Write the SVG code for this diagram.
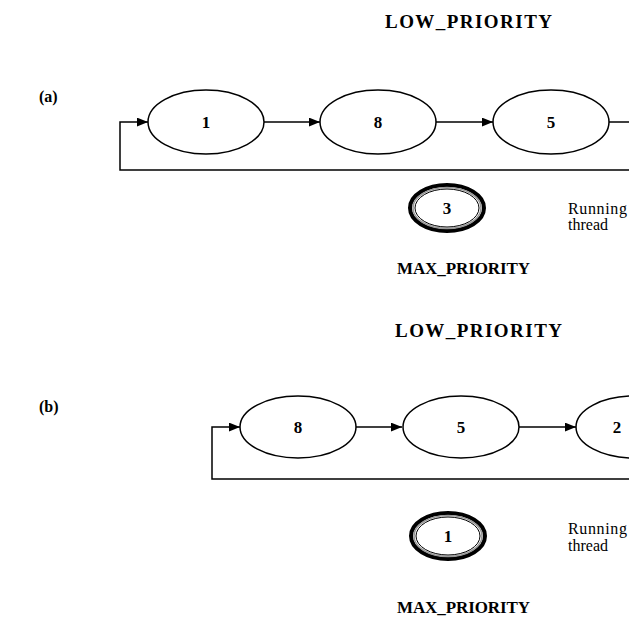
<svg xmlns="http://www.w3.org/2000/svg" width="629" height="622" viewBox="0 0 629 622">
<style>
.bg{fill:#fff}
.node{fill:#fff;stroke:#000;stroke-width:1.5}
.run-outer{fill:none;stroke:#000;stroke-width:4}
.run-mid{fill:none;stroke:#999;stroke-width:1.5}
.run-inner{fill:#fff;stroke:#000;stroke-width:1}
.edge{fill:none;stroke:#000;stroke-width:1.5}
.num{font-family:"Liberation Serif",serif;font-weight:bold;font-size:17px;text-anchor:middle}
.head{font-family:"Liberation Serif",serif;font-weight:bold;font-size:19px}
.lbl{font-family:"Liberation Serif",serif;font-weight:bold;font-size:16px}
.max{font-family:"Liberation Serif",serif;font-weight:bold;font-size:17px}
.note{font-family:"Liberation Serif",serif;font-size:16px}
</style>
<defs>
<marker id="arr" viewBox="0 0 10 8" refX="10" refY="4" markerWidth="11" markerHeight="9" markerUnits="userSpaceOnUse" orient="auto">
<path d="M0,0 L10,4 L0,8 Z" fill="#000"/>
</marker>
</defs>
<rect class="bg" x="0" y="0" width="629" height="622"/>

<text class="head" x="385" y="28" textLength="167" lengthAdjust="spacing">LOW_PRIORITY</text>
<text class="lbl" x="39" y="102">(a)</text>

<g id="connectors-a">
<line class="edge" x1="264" y1="122" x2="320" y2="122" marker-end="url(#arr)"/>
<line class="edge" x1="436" y1="122" x2="493" y2="122" marker-end="url(#arr)"/>
<line class="edge" x1="609" y1="122" x2="629" y2="122"/>
<path class="edge" d="M629,170 H120 V122 H148" marker-end="url(#arr)"/>
</g>

<g id="a-node-1"><ellipse class="node" cx="206" cy="122" rx="58" ry="32"/><text class="num" x="206" y="128">1</text></g>
<g id="a-node-8"><ellipse class="node" cx="378" cy="122" rx="58" ry="32"/><text class="num" x="378" y="128">8</text></g>
<g id="a-node-5"><ellipse class="node" cx="551" cy="122" rx="58" ry="32"/><text class="num" x="551" y="128">5</text></g>

<g id="a-running-3">
<ellipse class="run-outer" cx="447" cy="208" rx="37" ry="23"/>
<ellipse class="run-mid" cx="447" cy="208" rx="34" ry="20.5"/>
<ellipse class="run-inner" cx="447" cy="208" rx="32" ry="19"/>
<text class="num" x="447" y="214">3</text>
</g>
<text class="note" x="568" y="214" textLength="59" lengthAdjust="spacing">Running</text>
<text class="note" x="568" y="230">thread</text>
<text class="max" x="397" y="274" textLength="133" lengthAdjust="spacing">MAX_PRIORITY</text>

<text class="head" x="395" y="337" textLength="167" lengthAdjust="spacing">LOW_PRIORITY</text>
<text class="lbl" x="39" y="412">(b)</text>

<g id="connectors-b">
<line class="edge" x1="356" y1="427" x2="402" y2="427" marker-end="url(#arr)"/>
<line class="edge" x1="519" y1="427" x2="576" y2="427" marker-end="url(#arr)"/>
<path class="edge" d="M629,479 H212 V427 H240" marker-end="url(#arr)"/>
</g>

<g id="b-node-8"><ellipse class="node" cx="298" cy="427" rx="58" ry="31"/><text class="num" x="298" y="433">8</text></g>
<g id="b-node-5"><ellipse class="node" cx="461" cy="427" rx="58" ry="31"/><text class="num" x="461" y="433">5</text></g>
<g id="b-node-2"><ellipse class="node" cx="634" cy="427" rx="58" ry="31"/><text class="num" x="617" y="433">2</text></g>

<g id="b-running-1">
<ellipse class="run-outer" cx="448" cy="536" rx="37" ry="23"/>
<ellipse class="run-mid" cx="448" cy="536" rx="34" ry="20.5"/>
<ellipse class="run-inner" cx="448" cy="536" rx="32" ry="19"/>
<text class="num" x="448" y="542">1</text>
</g>
<text class="note" x="568" y="534" textLength="59" lengthAdjust="spacing">Running</text>
<text class="note" x="568" y="551">thread</text>
<text class="max" x="397" y="613" textLength="133" lengthAdjust="spacing">MAX_PRIORITY</text>
</svg>
